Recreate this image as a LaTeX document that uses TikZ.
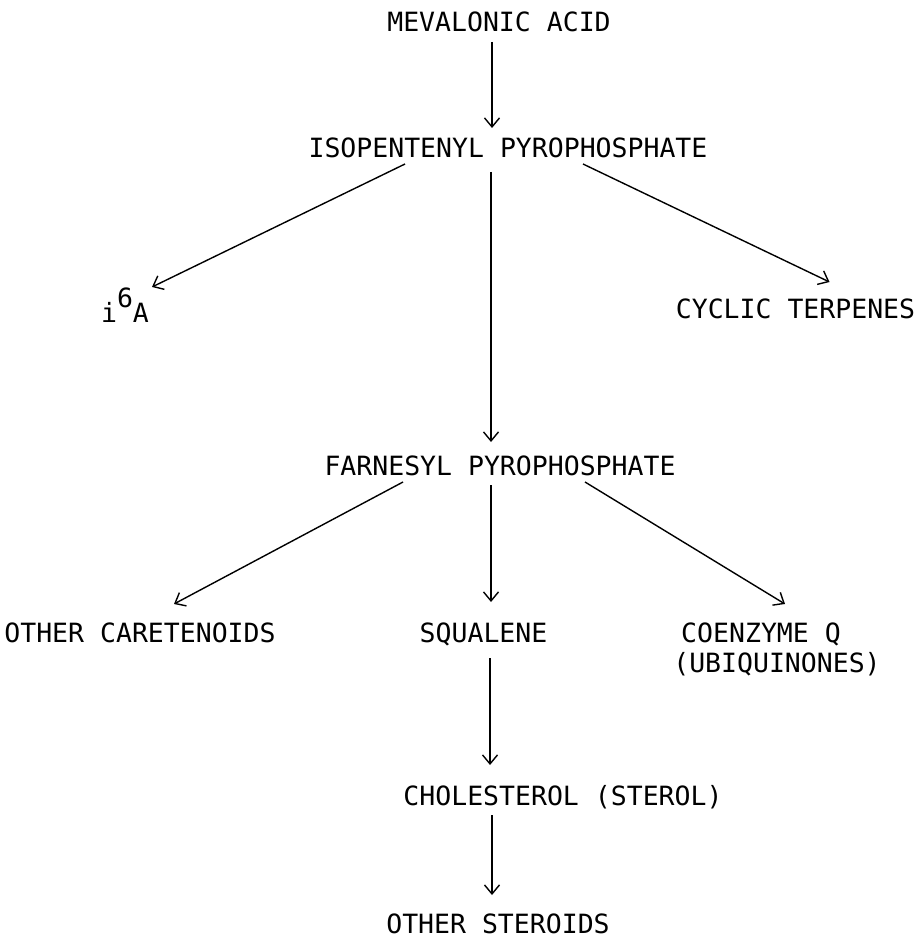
\documentclass[tikz,border=0pt]{standalone}
\usepackage{fontspec}
\setmonofont{DejaVu Sans Mono}
\usetikzlibrary{arrows.meta,calc}
\tikzset{
  lbl/.style={font=\ttfamily\fontsize{26.5}{28}\selectfont, inner sep=0pt, anchor=base, text height=19pt, text depth=0pt},
  arr/.style={line width=1.4pt, -{Straight Barb[length=9pt,width=15pt,line width=1.4pt]}}
}
\begin{document}
\begin{tikzpicture}[x=1pt,y=-1pt]
\useasboundingbox[fill=white] (0,0) rectangle (921,941);
\node[lbl] (mev) at (499,32) {MEVALONIC ACID};
\node[lbl] (iso) at (508,158) {ISOPENTENYL PYROPHOSPHATE};
\node[lbl] (i6a) at (125,322) {i\raisebox{15pt}{6}A};
\node[lbl] (cyc) at (795.5,318) {CYCLIC TERPENES};
\node[lbl] (far) at (500,475) {FARNESYL PYROPHOSPHATE};
\node[lbl] (oth) at (140,642) {OTHER CARETENOIDS};
\node[lbl] (squ) at (483.5,642) {SQUALENE};
\node[lbl] (coq) at (761,642) {COENZYME Q};
\node[lbl] (ubi) at (777,672) {(UBIQUINONES)};
\node[lbl] (cho) at (563,805) {CHOLESTEROL (STEROL)};
\node[lbl] (ste) at (498,933) {OTHER STEROIDS};
\draw[arr] ($(mev.base)+(-7,10)$) -- ($(iso.base)+(-16,-30)$);
\draw[arr] ($(iso.base)+(-103,6)$) -- ($(i6a.base)+(27,-35)$);
\draw[arr] ($(iso.base)+(75,6)$) -- ($(cyc.base)+(34,-36)$);
\draw[arr] ($(iso.base)+(-17,14)$) -- ($(far.base)+(-9,-33)$);
\draw[arr] ($(far.base)+(-97,7)$) -- ($(oth.base)+(34,-38)$);
\draw[arr] ($(far.base)+(-9,10)$) -- ($(squ.base)+(7.5,-40)$);
\draw[arr] ($(far.base)+(85,7)$) -- ($(coq.base)+(24,-38)$);
\draw[arr] ($(squ.base)+(6.5,16)$) -- ($(cho.base)+(-73,-40)$);
\draw[arr] ($(cho.base)+(-71,10)$) -- ($(ste.base)+(-6,-38)$);
\end{tikzpicture}
\end{document}
